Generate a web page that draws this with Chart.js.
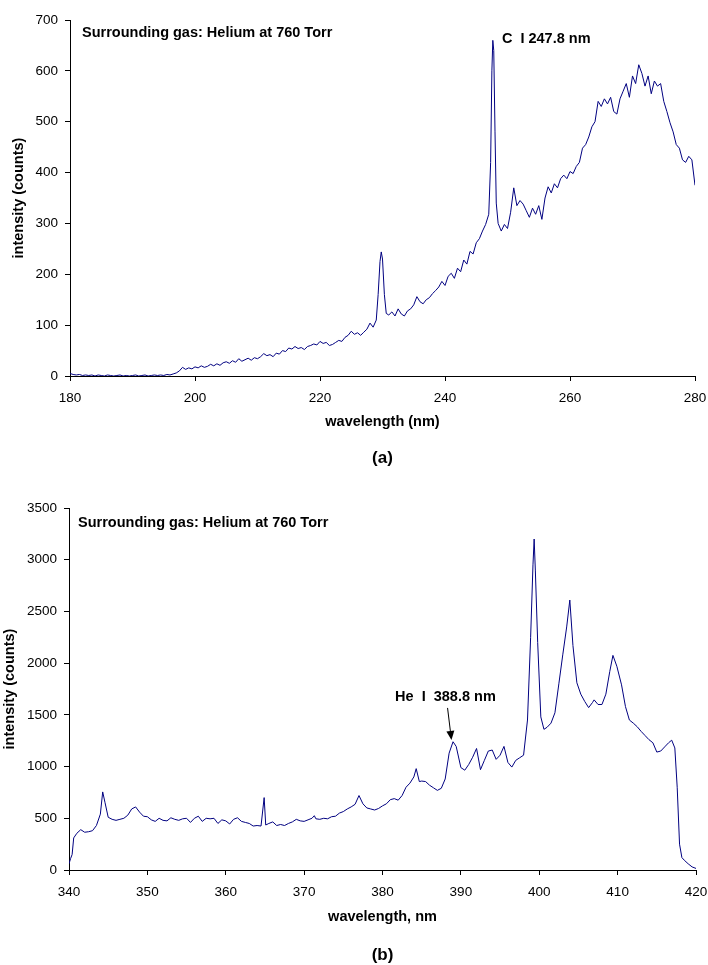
<!DOCTYPE html>
<html>
<head>
<meta charset="utf-8">
<script src="https://cdn.jsdelivr.net/npm/chart.js@4.4.1/dist/chart.umd.min.js"></script>
<style>
  body { margin: 0; background: #fff; }
  #wrap { position: relative; width: 708px; height: 965px; }
  canvas { position: absolute; left: 0; display: block; }
  #chartA { top: 0; }
  #chartB { top: 480px; }
</style>
</head>
<body>
<div id="wrap">
  <canvas id="chartA" width="708" height="480"></canvas>
  <canvas id="chartB" width="708" height="485"></canvas>
</div>
<script>
// (a) 180-280 nm spectrum
const wavelengthA = [
  180, 180.5, 181, 181.5, 182, 182.5, 183, 183.5, 184, 184.5,
  185, 185.5, 186, 186.5, 187, 187.5, 188, 188.5, 189, 189.5,
  190, 190.5, 191, 191.5, 192, 192.5, 193, 193.5, 194, 194.5,
  195, 195.5, 196, 196.5, 197, 197.5, 198, 198.5, 199, 199.5,
  200, 200.5, 201, 201.5, 202, 202.5, 203, 203.5, 204, 204.5,
  205, 205.5, 206, 206.5, 207, 207.5, 208, 208.5, 209, 209.5,
  210, 210.5, 211, 211.5, 212, 212.5, 213, 213.5, 214, 214.5,
  215, 215.5, 216, 216.5, 217, 217.5, 218, 218.5, 219, 219.5,
  220, 220.5, 221, 221.5, 222, 222.5, 223, 223.5, 224, 224.5,
  225, 225.5, 226, 226.5, 227, 227.5, 228, 228.5, 229, 229.3,
  229.6, 229.8, 230, 230.3, 230.6, 231, 231.5, 232, 232.5, 233,
  233.5, 234, 234.5, 235, 235.5, 236, 236.5, 237, 237.5, 238,
  238.5, 239, 239.5, 240, 240.5, 241, 241.5, 242, 242.5, 243,
  243.5, 244, 244.5, 245, 245.5, 246, 246.5, 247, 247.3, 247.5,
  247.65, 247.8, 248, 248.2, 248.5, 249, 249.5, 250, 250.5, 251,
  251.5, 252, 252.5, 253, 253.5, 254, 254.5, 255, 255.5, 256,
  256.5, 257, 257.5, 258, 258.5, 259, 259.5, 260, 260.5, 261,
  261.5, 262, 262.5, 263, 263.5, 264, 264.5, 265, 265.5, 266,
  266.5, 267, 267.5, 268, 268.5, 269, 269.5, 270, 270.5, 271,
  271.5, 272, 272.5, 273, 273.5, 274, 274.5, 275, 275.5, 276,
  276.5, 277, 277.5, 278, 278.5, 279, 279.5, 280
];
const intensityA = [
  5, 3, 2, 3, 1, 2, 1, 2, 0, 2,
  1, 0, 2, 1, 0, 1, 2, 0, 1, 0,
  1, 2, 0, 1, 2, 0, 1, 2, 1, 2,
  1, 3, 2, 4, 6, 10, 17, 13, 16, 14,
  18, 16, 20, 17, 19, 23, 20, 24, 21, 26,
  28, 25, 30, 27, 34, 29, 32, 35, 31, 36,
  34, 38, 44, 40, 42, 38, 45, 43, 50, 48,
  55, 53, 58, 54, 56, 52, 58, 60, 63, 61,
  68, 64, 66, 60, 62, 66, 70, 68, 76, 80,
  88, 82, 85, 80, 86, 92, 104, 96, 110, 160,
  225, 244, 230, 160, 123, 120, 126, 118, 132, 122,
  118, 128, 132, 140, 156, 146, 142, 150, 154, 162,
  168, 175, 186, 178, 196, 202, 192, 212, 205, 228,
  220, 245, 240, 262, 270, 285, 298, 318, 420, 600,
  660, 640, 480, 340, 300, 285, 298, 290, 322, 370,
  335, 345, 338, 325, 312, 330, 318, 335, 308, 350,
  372, 360, 378, 370, 388, 395, 388, 402, 398, 412,
  420, 448, 455, 470, 490, 500, 540, 530, 545, 535,
  548, 520, 515, 545, 560, 575, 548, 590, 575, 612,
  595, 570, 590, 555, 580, 570, 575, 540, 520, 498,
  480, 455, 448, 425, 420, 432, 425, 375
];
const xTicksA = [180, 200, 220, 240, 260, 280];
const yTicksA = [0, 100, 200, 300, 400, 500, 600, 700];

// (b) 340-420 nm spectrum
const wavelengthB = [
  340, 340.2, 340.4, 340.6, 341, 341.5, 342, 342.5, 343, 343.5,
  344, 344.3, 344.6, 345, 345.5, 346, 346.5, 347, 347.5, 348,
  348.5, 349, 349.5, 350, 350.5, 351, 351.5, 352, 352.5, 353,
  353.5, 354, 354.5, 355, 355.5, 356, 356.5, 357, 357.5, 358,
  358.5, 359, 359.5, 360, 360.5, 361, 361.5, 362, 362.5, 363,
  363.5, 364, 364.5, 364.9, 365.1, 365.5, 366, 366.5, 367, 367.5,
  368, 368.5, 369, 369.5, 370, 370.5, 371, 371.3, 371.5, 372,
  372.5, 373, 373.5, 374, 374.5, 375, 375.5, 376, 376.5, 377,
  377.5, 378, 378.5, 379, 379.5, 380, 380.5, 381, 381.5, 382,
  382.5, 383, 383.5, 384, 384.3, 384.7, 385, 385.5, 386, 386.5,
  387, 387.5, 388, 388.5, 389, 389.4, 390, 390.5, 391, 391.5,
  392, 392.5, 393, 393.5, 394, 394.5, 395, 395.5, 396, 396.5,
  397, 397.5, 398, 398.5, 398.9, 399.2, 399.35, 399.5, 399.8, 400.2,
  400.6, 401, 401.5, 402, 402.5, 403, 403.5, 403.9, 404.3, 404.8,
  405.3, 405.8, 406.3, 406.8, 407, 407.5, 408, 408.5, 409, 409.4,
  409.9, 410.5, 411, 411.5, 412, 412.5, 413, 413.5, 414, 414.5,
  415, 415.5, 416, 416.5, 416.9, 417.3, 417.6, 417.9, 418.2, 418.5,
  419, 419.5, 420
];
const intensityB = [
  60, 110, 150, 310, 355, 390, 365, 370, 380, 430,
  540, 755, 650, 510, 490, 480, 490, 500, 530, 590,
  610, 560, 520, 515, 485, 470, 500, 480, 475, 505,
  490, 480, 495, 500, 460, 500, 520, 470, 500, 495,
  500, 450, 485, 475, 445, 490, 505, 470, 460, 450,
  425, 430, 425, 700, 435, 450, 465, 430, 440, 430,
  450, 465, 490, 475, 470, 485, 500, 525, 495, 490,
  500, 495, 515, 520, 550, 565, 590, 610, 635, 720,
  640, 600, 590, 580, 595, 620, 640, 680, 690, 675,
  720, 800, 840, 900, 980, 855, 860, 855, 820, 795,
  770, 790, 880, 1130, 1240, 1195, 990, 965, 1020, 1090,
  1175, 970, 1060, 1150, 1160, 1070, 1110, 1195, 1040, 995,
  1060, 1085, 1110, 1450, 2250, 2950, 3200, 2900, 2200, 1480,
  1360, 1380, 1420, 1520, 1800, 2080, 2350, 2610, 2170, 1810,
  1700, 1630, 1570, 1620, 1645, 1600, 1600, 1700, 1920, 2075,
  1970, 1790, 1580, 1450, 1420, 1385, 1340, 1300, 1260, 1230,
  1140, 1150, 1190, 1230, 1255, 1180, 800, 250, 120, 95,
  60, 30, 15
];
const xTicksB = [340, 350, 360, 370, 380, 390, 400, 410, 420];
const yTicksB = [0, 500, 1000, 1500, 2000, 2500, 3000, 3500];

const FONT = '"Liberation Sans", Arial, Helvetica, sans-serif';
const LABEL_FONT = 'bold 14.5px ' + FONT;
Chart.defaults.font.family = FONT;
Chart.defaults.color = '#000';

// texts and arrow drawn on top of the plot
const notesPlugin = {
  id: 'notes',
  afterDraw(chart, args, opts) {
    const { ctx, chartArea, scales } = chart;
    ctx.save();
    ctx.fillStyle = '#000';
    ctx.strokeStyle = '#000';
    ctx.textBaseline = 'middle';
    ctx.textAlign = 'left';
    ctx.font = LABEL_FONT;
    ctx.fillText(opts.gas, chartArea.left + opts.gasDx, chartArea.top + opts.gasDy);
    const px = scales.x.getPixelForValue(opts.peak.x);
    const py = scales.y.getPixelForValue(opts.peak.y);
    ctx.fillText(opts.peak.text, px, py);
    if (opts.arrow) {
      const x0 = scales.x.getPixelForValue(opts.arrow.from[0]);
      const y0 = scales.y.getPixelForValue(opts.arrow.from[1]);
      const x1 = scales.x.getPixelForValue(opts.arrow.to[0]);
      const y1 = scales.y.getPixelForValue(opts.arrow.to[1]);
      const ang = Math.atan2(y1 - y0, x1 - x0);
      ctx.lineWidth = 1;
      ctx.beginPath();
      ctx.moveTo(x0, y0);
      ctx.lineTo(x1 - 7 * Math.cos(ang), y1 - 7 * Math.sin(ang));
      ctx.stroke();
      ctx.beginPath();
      ctx.moveTo(x1, y1);
      ctx.lineTo(x1 - 9 * Math.cos(ang) + 4 * Math.sin(ang), y1 - 9 * Math.sin(ang) - 4 * Math.cos(ang));
      ctx.lineTo(x1 - 9 * Math.cos(ang) - 4 * Math.sin(ang), y1 - 9 * Math.sin(ang) + 4 * Math.cos(ang));
      ctx.closePath();
      ctx.fill();
    }
    // panel label (a) / (b)
    ctx.textAlign = 'center';
    ctx.font = 'bold 17px ' + FONT;
    ctx.fillText(opts.panel, (chartArea.left + chartArea.right) / 2, opts.panelY);
    ctx.restore();
  }
};

function buildChart(canvasId, cfg) {
  const ctx = document.getElementById(canvasId).getContext('2d');
  return new Chart(ctx, {
    type: 'line',
    data: {
      datasets: [{
        data: cfg.wavelengths.map((w, i) => ({ x: w, y: cfg.intensities[i] })),
        borderColor: '#000080',
        borderWidth: 1,
        pointRadius: 0,
        tension: 0,
        fill: false
      }]
    },
    options: {
      responsive: false,
      animation: false,
      devicePixelRatio: 1,
      layout: { padding: { top: cfg.padTop, right: cfg.padRight, bottom: 0, left: 0 } },
      plugins: {
        legend: { display: false },
        tooltip: { enabled: false },
        notes: cfg.notes
      },
      scales: {
        x: {
          type: 'linear',
          min: cfg.xTicks[0],
          max: cfg.xTicks[cfg.xTicks.length - 1],
          afterBuildTicks: s => { s.ticks = cfg.xTicks.map(v => ({ value: v })); },
          afterFit: s => {
            s.height = cfg.xHeight;
            s.paddingLeft = 0;
            s.paddingRight = 0;
          },
          grid: { drawOnChartArea: false, tickLength: 5, color: '#000' },
          border: { color: '#000', width: 1 },
          ticks: { padding: 9, font: { size: 13.5 }, color: '#000', maxRotation: 0, autoSkip: false, callback: v => String(v) },
          title: { display: true, text: cfg.xTitle, font: { size: 14.5, weight: 'bold' }, padding: { top: 0, bottom: cfg.xTitlePad } }
        },
        y: {
          min: cfg.yTicks[0],
          max: cfg.yTicks[cfg.yTicks.length - 1],
          afterBuildTicks: s => { s.ticks = cfg.yTicks.map(v => ({ value: v })); },
          afterFit: s => { s.width = cfg.yWidth; },
          grid: { drawOnChartArea: false, tickLength: 5, color: '#000' },
          border: { color: '#000', width: 1 },
          ticks: { padding: 7, font: { size: 13.5 }, color: '#000', autoSkip: false, callback: v => String(v) },
          title: { display: true, text: 'intensity (counts)', font: { size: 14.5, weight: 'bold' }, padding: { top: cfg.yTitlePad, bottom: 0 } }
        }
      }
    },
    plugins: [notesPlugin]
  });
}

buildChart('chartA', {
  wavelengths: wavelengthA,
  intensities: intensityA,
  xTicks: xTicksA,
  yTicks: yTicksA,
  padTop: 20,
  padRight: 13,
  xHeight: 104,
  yWidth: 70,
  xTitle: 'wavelength (nm)',
  xTitlePad: 49.3,
  yTitlePad: 10.3,
  notes: {
    gas: 'Surrounding gas: Helium at 760 Torr',
    gasDx: 12, gasDy: 13,
    peak: { text: 'C  I 247.8 nm', x: 249.1, y: 662 },
    panel: '(a)', panelY: 458
  }
});

buildChart('chartB', {
  wavelengths: wavelengthB,
  intensities: intensityB,
  xTicks: xTicksB,
  yTicks: yTicksB,
  padTop: 28,
  padRight: 12,
  xHeight: 95,
  yWidth: 69,
  xTitle: 'wavelength, nm',
  xTitlePad: 39.3,
  yTitlePad: 1.3,
  notes: {
    gas: 'Surrounding gas: Helium at 760 Torr',
    gasDx: 9, gasDy: 15,
    peak: { text: 'He  I  388.8 nm', x: 381.6, y: 1673 },
    arrow: { from: [388.3, 1567], to: [388.8, 1257] },
    panel: '(b)', panelY: 475
  }
});
</script>
</body>
</html>
